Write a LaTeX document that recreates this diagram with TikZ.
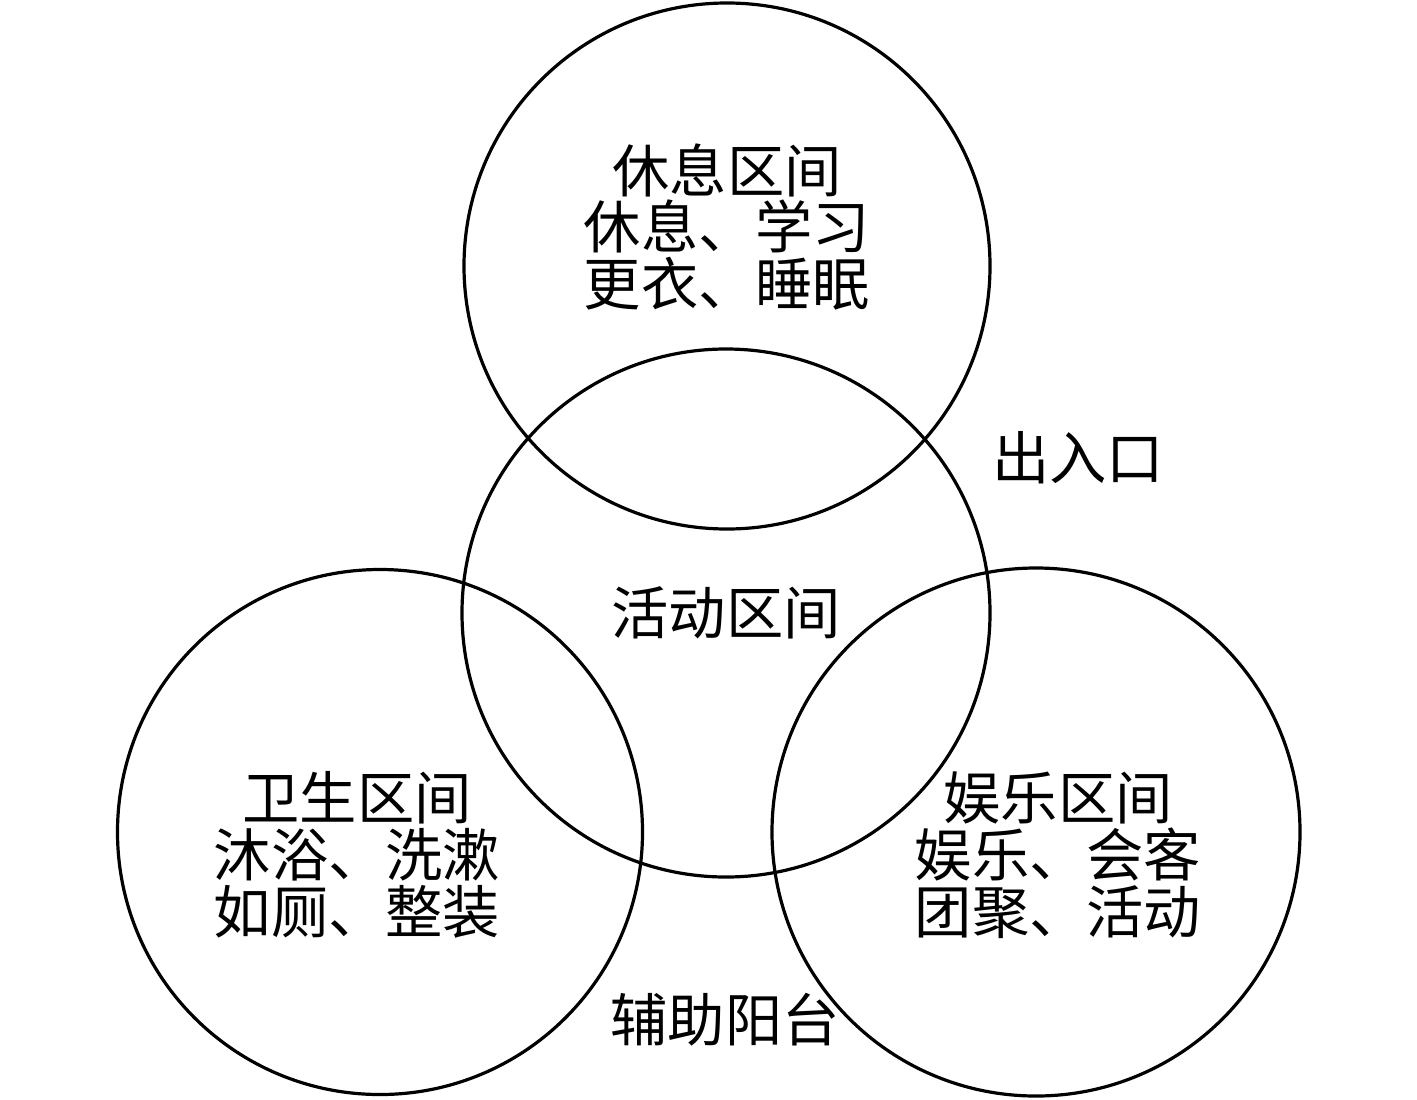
\documentclass[tikz,border=0pt]{standalone}
\usepackage{fontspec}
\setmainfont{Liberation Serif}
\newfontfamily\cjk{Noto Sans CJK SC}
\begin{document}
\begin{tikzpicture}[x=1bp,y=-1bp,
  zone/.style={draw=black,line width=3.2bp,circle,inner sep=0pt},
  lbl/.style={font=\cjk\fontsize{57.5}{57}\selectfont,align=center,inner sep=0pt,text=black}]
\useasboundingbox[fill=white] (0,0) rectangle (1417,1099);
\node[zone,minimum size=526bp] (top) at (727,266) {};
\node[zone,minimum size=528bp] (mid) at (726,613) {};
\node[zone,minimum size=525bp] (left) at (380,832) {};
\node[zone,minimum size=528bp] (right) at (1036,832) {};
\node[lbl] (toptext) at (727,227) {休息区间\\休息、学习\\更衣、睡眠};
\node[lbl] (midtext) at (726,613) {活动区间};
\node[lbl] (lefttext) at (357,855) {卫生区间\\沐浴、洗漱\\如厕、整装};
\node[lbl] (righttext) at (1058,855) {娱乐区间\\娱乐、会客\\团聚、活动};
\node[lbl] (entry) at (1078,458) {出入口};
\node[lbl] (balcony) at (725,1020) {辅助阳台};
\end{tikzpicture}
\end{document}
